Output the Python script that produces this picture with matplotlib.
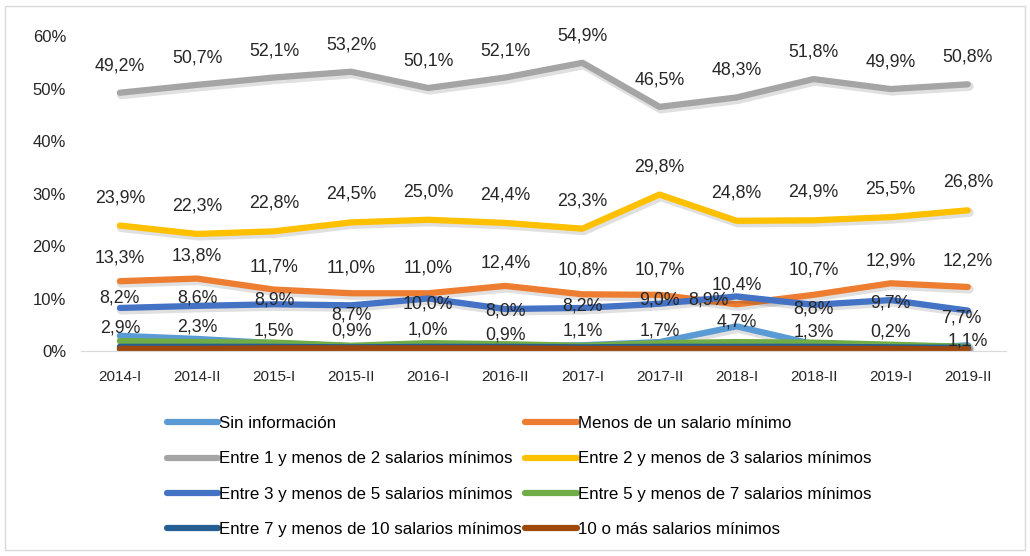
import matplotlib
matplotlib.use("Agg")
import matplotlib.pyplot as plt
import matplotlib.patheffects as pe
from matplotlib.patches import Rectangle

# periods on the x axis
periods = ["2014-I", "2014-II", "2015-I", "2015-II", "2016-I", "2016-II",
           "2017-I", "2017-II", "2018-I", "2018-II", "2019-I", "2019-II"]

# shares (%) by income band
sin_info = [2.9, 2.3, 1.5, 0.9, 1.0, 0.9, 1.1, 1.7, 4.7, 1.3, 0.2, 1.1]
menos_1 = [13.3, 13.8, 11.7, 11.0, 11.0, 12.4, 10.8, 10.7, 8.9, 10.7, 12.9, 12.2]
entre_1_2 = [49.2, 50.7, 52.1, 53.2, 50.1, 52.1, 54.9, 46.5, 48.3, 51.8, 49.9, 50.8]
entre_2_3 = [23.9, 22.3, 22.8, 24.5, 25.0, 24.4, 23.3, 29.8, 24.8, 24.9, 25.5, 26.8]
entre_3_5 = [8.2, 8.6, 8.9, 8.7, 10.0, 8.0, 8.2, 9.0, 10.4, 8.8, 9.7, 7.7]
entre_5_7 = [1.9, 1.7, 1.6, 1.0, 1.5, 1.3, 1.0, 1.5, 1.7, 1.6, 1.2, 0.8]
entre_7_10 = [0.8, 0.8, 0.8, 0.7, 0.8, 0.8, 0.7, 0.8, 0.8, 0.8, 0.7, 0.6]
mas_10 = [0.4, 0.4, 0.5, 0.5, 0.5, 0.5, 0.4, 0.4, 0.4, 0.4, 0.4, 0.3]

series = [
    ("Sin información", sin_info, "#5B9BD5"),
    ("Menos de un salario mínimo", menos_1, "#ED7D31"),
    ("Entre 1 y menos de 2 salarios mínimos", entre_1_2, "#A5A5A5"),
    ("Entre 2 y menos de 3 salarios mínimos", entre_2_3, "#FFC000"),
    ("Entre 3 y menos de 5 salarios mínimos", entre_3_5, "#4472C4"),
    ("Entre 5 y menos de 7 salarios mínimos", entre_5_7, "#70AD47"),
    ("Entre 7 y menos de 10 salarios mínimos", entre_7_10, "#255E91"),
    ("10 o más salarios mínimos", mas_10, "#9E480E"),
]

# label offsets in pixels above each point (layout only)
label_dy = {
    "Sin información": [8, 12, 12, 15, 16, 11, 14, 11, 4, 12, 18, 4],
    "Menos de un salario mínimo": [23, 23, 23, 25, 25, 23, 24, 25, 4, 25, 22, 26],
    "Entre 1 y menos de 2 salarios mínimos": [27] * 12,
    "Entre 2 y menos de 3 salarios mínimos": [28] * 12,
    "Entre 3 y menos de 5 salarios mínimos": [10, 8, 4, -10, -5, -2, 2, 4, 11, -4, -3, -7],
}
label_dx = {"Menos de un salario mínimo": [0, 0, 0, 0, 0, 0, 0, 0, -28, 0, 0, 0],
            "Entre 3 y menos de 5 salarios mínimos": [0] * 11 + [-6]}

plt.rcParams["font.family"] = ["Liberation Sans", "DejaVu Sans"]

fig = plt.figure(figsize=(10.3, 5.56), dpi=100)
ax = fig.add_axes([0.079, 0.3687, 0.898, 0.5665])

x = list(range(len(periods)))
shadow = [pe.SimpleLineShadow(offset=(1, -1.5), alpha=0.12, shadow_color="black", linewidth=6.5),
          pe.Normal()]
handles = []
for name, vals, color in series:
    h, = ax.plot(x, [v / 100 for v in vals], color=color, lw=4.5, label=name,
                 solid_capstyle="round", path_effects=shadow)
    handles.append(h)

for name, vals, color in series:
    if name not in label_dy:
        continue
    dxs = label_dx.get(name, [0] * len(vals))
    for i, v in enumerate(vals):
        ax.annotate(f"{v:.1f}%".replace(".", ","), (i, v / 100),
                    xytext=(dxs[i] * 0.72, label_dy[name][i] * 0.72),
                    textcoords="offset points", ha="center", va="center",
                    fontsize=12.8, color="#262626")

ax.set_xlim(-0.5, len(periods) - 0.5)
ax.set_ylim(0, 0.6)
ax.set_xticks(x)
ax.set_xticklabels(periods, fontsize=11, color="#262626")
ax.set_yticks([0, 0.1, 0.2, 0.3, 0.4, 0.5, 0.6])
ax.set_yticklabels(["0%", "10%", "20%", "30%", "40%", "50%", "60%"], fontsize=12, color="#262626")
ax.tick_params(axis="both", length=0)
ax.tick_params(axis="x", pad=14)
ax.tick_params(axis="y", pad=11)
for s in ["top", "right", "left"]:
    ax.spines[s].set_visible(False)
ax.spines["bottom"].set_color("#D9D9D9")

# Excel fills the legend row by row
order = [0, 2, 4, 6, 1, 3, 5, 7]
leg = fig.legend([handles[i] for i in order], [series[i][0] for i in order],
                 loc="upper left", bbox_to_anchor=(0.147, 0.279), ncol=2, frameon=False,
                 handlelength=3.05, handletextpad=0.05, columnspacing=0.2,
                 labelspacing=1.2, prop={"size": 12.2})
for line in leg.get_lines():
    line.set_linewidth(4.5)
    line.set_path_effects([])

fig.patches.append(Rectangle((0.005, 0.01), 0.99, 0.98, transform=fig.transFigure,
                             fill=False, edgecolor="#D9D9D9", lw=1))

fig.savefig("out.png", dpi=100, facecolor="white")
